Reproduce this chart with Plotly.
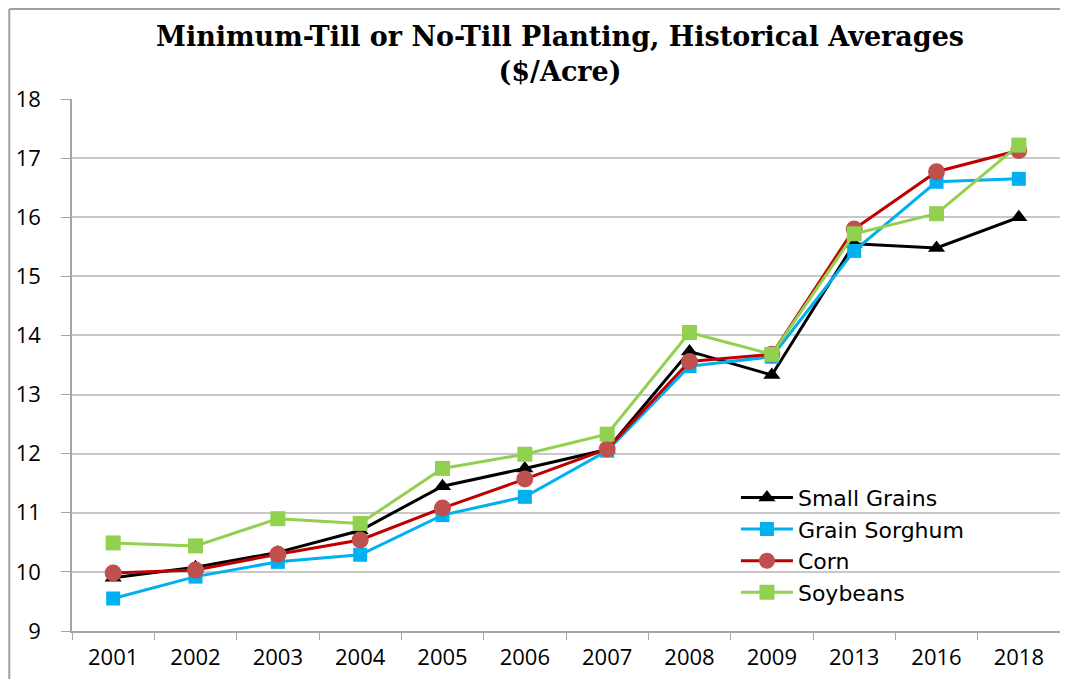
import plotly.graph_objects as go

years = ["2001", "2002", "2003", "2004", "2005", "2006", "2007", "2008", "2009", "2013", "2016", "2018"]
small_grains = [9.90, 10.08, 10.33, 10.70, 11.45, 11.75, 12.07, 13.73, 13.33, 15.55, 15.48, 16.00]
grain_sorghum = [9.55, 9.92, 10.17, 10.29, 10.96, 11.27, 12.05, 13.48, 13.64, 15.43, 16.60, 16.65]
corn = [9.98, 10.03, 10.30, 10.54, 11.08, 11.57, 12.08, 13.56, 13.68, 15.80, 16.77, 17.13]
soybeans = [10.49, 10.44, 10.90, 10.82, 11.75, 11.99, 12.33, 14.05, 13.68, 15.72, 16.06, 17.22]

fig = go.Figure()
fig.add_trace(go.Scatter(x=years, y=small_grains, name="Small Grains", mode="lines+markers",
                         line=dict(color="#000000", width=3),
                         marker=dict(symbol="triangle-up", size=15, color="#000000")))
fig.add_trace(go.Scatter(x=years, y=grain_sorghum, name="Grain Sorghum", mode="lines+markers",
                         line=dict(color="#00B0F0", width=3),
                         marker=dict(symbol="square", size=14, color="#00B0F0")))
fig.add_trace(go.Scatter(x=years, y=corn, name="Corn", mode="lines+markers",
                         line=dict(color="#C00000", width=3),
                         marker=dict(symbol="circle", size=17, color="#C0504D")))
fig.add_trace(go.Scatter(x=years, y=soybeans, name="Soybeans", mode="lines+markers",
                         line=dict(color="#92D050", width=3),
                         marker=dict(symbol="square", size=15, color="#92D050")))

fig.update_layout(
    width=1060, height=671,
    margin=dict(l=64, r=8, t=91, b=46),
    paper_bgcolor="white", plot_bgcolor="white",
    font=dict(family="Open Sans", color="#000000"),
    legend=dict(x=0.672, y=0.29, xanchor="left", yanchor="top",
                font=dict(family="DejaVu Sans", size=22, color="#000000"),
                bgcolor="rgba(0,0,0,0)", itemwidth=52),
    showlegend=True,
)
fig.add_annotation(text="<b>Minimum-Till or No-Till Planting, Historical Averages<br>($/Acre)</b>",
                   xref="paper", yref="paper", x=0.494, y=1.084, xanchor="center", yanchor="middle",
                   showarrow=False, align="center",
                   font=dict(family="DejaVu Serif", size=27, color="#000000"))
fig.update_xaxes(type="category", range=[-0.5, 11.5], showgrid=False,
                 showline=True, linecolor="#A6A6A6", linewidth=1.5,
                 ticks="outside", tickson="boundaries", ticklen=7, tickcolor="#A6A6A6",
                 ticklabelstandoff=6,
                 tickfont=dict(family="Open Sans", size=22, color="#000000"))
fig.update_yaxes(range=[9, 18], dtick=1, showgrid=True, gridcolor="#C8C8C8", gridwidth=2,
                 showline=True, linecolor="#A6A6A6", linewidth=1.5,
                 ticks="outside", ticklen=9, tickcolor="#A6A6A6", zeroline=False,
                 ticklabelstandoff=16,
                 tickfont=dict(family="Open Sans", size=22, color="#000000"))

fig.add_shape(type="line", xref="paper", yref="paper", x0=-0.0635, x1=-0.0635, y0=-0.2, y1=1.169,
              line=dict(color="#A0A0A0", width=2))
fig.add_shape(type="line", xref="paper", yref="paper", x0=-0.0635, x1=1.02, y0=1.169, y1=1.169,
              line=dict(color="#A0A0A0", width=2))

fig.write_html("out.html")
